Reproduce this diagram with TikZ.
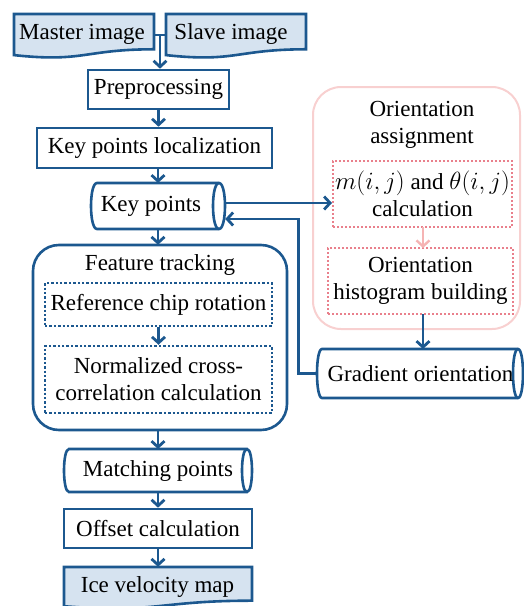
\documentclass[tikz,border=0pt]{standalone}
\usepackage{fontspec}
\setmainfont{Liberation Serif}
\usetikzlibrary{arrows.meta,calc}
\definecolor{dblue}{RGB}{28,88,143}
\definecolor{lblue}{RGB}{214,227,240}
\definecolor{lpink}{RGB}{248,208,208}
\definecolor{dpink}{RGB}{233,128,140}
\definecolor{apink}{RGB}{245,180,180}
\tikzset{
  txt/.style={font=\fontsize{23}{27}\selectfont, inner sep=0pt, align=center},
  bluebox/.style={draw=dblue, line width=2.6pt, inner sep=0pt},
  dotbox/.style={draw=dblue, line width=2.4pt, dotted, inner sep=0pt},
  pinkdot/.style={draw=dpink, line width=2pt, dotted, inner sep=0pt},
  ghost/.style={inner sep=0pt},
  blueline/.style={draw=dblue, line width=2.6pt},
  arr/.style={draw=dblue, line width=2.8pt, -{Straight Barb[length=6pt,width=13pt]}},
  parr/.style={draw=apink, line width=2.4pt, -{Straight Barb[length=6pt,width=13pt]}},
}
% cylinder: name, x1, y1, x2, y2, rx
\newcommand{\mycyl}[6]{%
  \node[ghost, minimum width={(#4)-(#2)}, minimum height={(#5)-(#3)}] (#1) at ({((#2)+(#4))/2},{((#3)+(#5))/2}) {};
  \draw[blueline, fill=white] (#2+#6,#3) -- (#4-#6,#3)
     .. controls (#4-#6+1.333*#6,#3) and (#4-#6+1.333*#6,#5) .. (#4-#6,#5)
     -- (#2+#6,#5)
     .. controls (#2+#6-1.333*#6,#5) and (#2+#6-1.333*#6,#3) .. (#2+#6,#3) -- cycle;
  \draw[blueline] (#4-#6,#3) .. controls (#4-#6-1.333*#6,#3) and (#4-#6-1.333*#6,#5) .. (#4-#6,#5);
}
% document shape: name, x1, y1, x2, h
\newcommand{\mydoc}[5]{%
  \node[ghost, minimum width={(#4)-(#2)}, minimum height={#5}] (#1) at ({((#2)+(#4))/2},{(#3)+(#5)/2}) {};
  \draw[blueline, fill=lblue] (#2,#3) -- (#4,#3) -- (#4,#3+0.802*#5)
     .. controls ({((#2)+(#4))/2},#3+0.802*#5) and ({((#2)+(#4))/2},#3+1.107*#5) .. (#2,#3+0.934*#5) -- cycle;
}
\begin{document}
\begin{tikzpicture}[x=1pt,y=-1pt]
\useasboundingbox (0,0) rectangle (524,606);
\clip (0,0) rectangle (524,606);

% ---- top documents
\mydoc{master}{14}{14}{154}{44}
\mydoc{slave}{166}{14}{306}{44}
\node[txt] at (82,34) {Master image};
\node[txt] at (231,34) {Slave image};

% ---- main column
\node[bluebox, txt, minimum width=141pt, minimum height=39pt] (pre) at (158.5,89.5) {Preprocessing};
\node[bluebox, txt, minimum width=235pt, minimum height=40pt] (kpl) at (154.5,148) {Key points localization};
\mycyl{kp}{91}{183}{225}{229}{6}
\node[txt] at (151,206) {Key points};

% feature tracking
\draw[blueline, rounded corners=26pt] (33,245) rectangle (287,430);
\node[ghost, minimum width=254pt, minimum height=185pt] (ft) at (160,337.5) {};
\node[txt] at (160,265) {Feature tracking};
\node[dotbox, txt, minimum width=227pt, minimum height=43pt] (ref) at (158.5,304.5) {Reference chip rotation};
\node[dotbox, txt, minimum width=227pt, minimum height=67pt] (ncc) at (158.5,379.5) {Normalized cross-\\correlation calculation};

\mycyl{mp}{64}{449}{252}{492}{5}
\node[txt] at (158,471) {Matching points};
\node[bluebox, txt, minimum width=188pt, minimum height=39pt] (off) at (158,528.5) {Offset calculation};
\mydoc{ice}{64}{567}{252}{42}
\node[txt] at (157.5,587) {Ice velocity map};

% ---- orientation assignment
\draw[draw=lpink, line width=2pt, rounded corners=28pt] (313,87) rectangle (520,329);
\node[ghost, minimum width=207pt, minimum height=242pt] (oa) at (416.5,208) {};
\node[txt] at (422,125) {Orientation\\assignment};
\node[pinkdot, txt, minimum width=179pt, minimum height=66pt] (mth) at (422.5,194) {$m(i,j)$ and $\theta(i,j)$\\calculation};
\node[pinkdot, txt, minimum width=185pt, minimum height=66pt] (hist) at (420.5,281) {Orientation\\histogram building};
\mycyl{grad}{317}{349}{523}{398}{5}
\node[txt] at (420.5,373.5) {Gradient orientation};

% ---- connectors
\coordinate (j) at (160,35);
\draw[blueline] (master.east |- j) -- (slave.west |- j);
\draw[arr] (j) -- (j |- pre.north);
\draw[arr] (pre.south) -- (pre.south |- kpl.north);
\draw[arr] (158,168) -- (158,183);
\draw[arr] (kp.south) -- (kp.south |- ft.north);
\draw[arr] (ref.south) -- (ncc.north);
\draw[arr] (158,430) -- (158,449);
\draw[arr] (mp.south) -- (mp.south |- off.north);
\draw[arr] (off.south) -- (off.south |- ice.north);
\draw[arr] ([yshift=3pt]kp.east) -- ([yshift=3pt]kp.east -| mth.west);
\draw[parr] (423,227) -- (423,248);
\draw[arr] (423,314) -- (423,349);
\draw[arr] (grad.west) -- ++(-18,0) |- ([yshift=-13pt]kp.east);
\end{tikzpicture}
\end{document}
